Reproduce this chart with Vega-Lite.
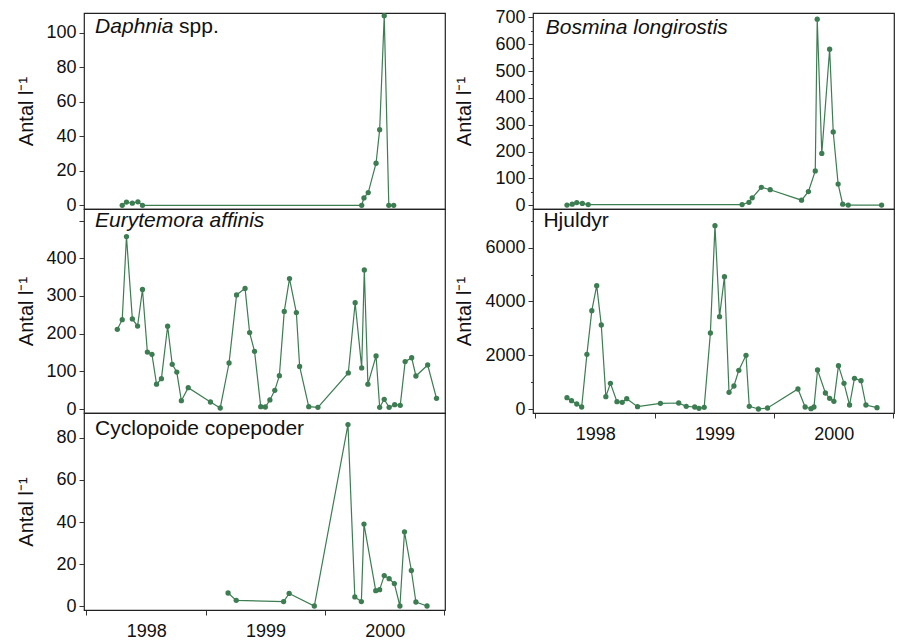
{
  "$schema": "https://vega.github.io/schema/vega-lite/v6.json",
  "padding": {"left": 15, "top": 7, "right": 0, "bottom": 0},
  "background": "white",
  "config": {
    "view": {"stroke": "#222", "strokeWidth": 1.2},
    "axis": {"labelFont": "Liberation Sans", "labelFontSize": 18, "labelColor": "#111", "titleFont": "Liberation Sans", "titleFontSize": 20, "titleFontWeight": "normal", "titleColor": "#111", "tickColor": "#333", "tickSize": 5, "domain": false, "grid": false, "labelPadding": 3, "labelOverlap": false, "labelFlush": false, "labelSeparation": 0, "tickCount": 50},
    "text": {"font": "Liberation Sans", "fontSize": 21, "color": "#111", "align": "left", "baseline": "alphabetic"}
  },
  "datasets": {
    "daphnia": [
      {"date": "1998-04-21", "antal": 0}, {"date": "1998-05-04", "antal": 1.9}, {"date": "1998-05-22", "antal": 1.2}, {"date": "1998-06-08", "antal": 2.0}, {"date": "1998-06-22", "antal": 0},
      {"date": "2000-04-23", "antal": 0}, {"date": "2000-04-30", "antal": 4.3}, {"date": "2000-05-13", "antal": 7.4}, {"date": "2000-06-06", "antal": 24.4}, {"date": "2000-06-17", "antal": 43.9}, {"date": "2000-07-01", "antal": 110}, {"date": "2000-07-15", "antal": 0}, {"date": "2000-07-30", "antal": 0}
    ],
    "bosmina": [
      {"date": "1998-04-08", "antal": 1}, {"date": "1998-04-24", "antal": 4}, {"date": "1998-05-08", "antal": 10}, {"date": "1998-05-25", "antal": 7}, {"date": "1998-06-12", "antal": 2.5},
      {"date": "1999-09-26", "antal": 2.5}, {"date": "1999-10-17", "antal": 11}, {"date": "1999-10-27", "antal": 28}, {"date": "1999-11-24", "antal": 67}, {"date": "1999-12-21", "antal": 58},
      {"date": "2000-03-26", "antal": 19}, {"date": "2000-04-16", "antal": 51}, {"date": "2000-05-07", "antal": 128}, {"date": "2000-05-13", "antal": 693}, {"date": "2000-05-27", "antal": 193}, {"date": "2000-06-20", "antal": 581}, {"date": "2000-07-01", "antal": 273}, {"date": "2000-07-16", "antal": 79}, {"date": "2000-07-30", "antal": 4}, {"date": "2000-08-16", "antal": 1}, {"date": "2000-11-26", "antal": 1}
    ],
    "eurytemora": [
      {"date": "1998-04-06", "antal": 211.5}, {"date": "1998-04-21", "antal": 237}, {"date": "1998-05-04", "antal": 457.5}, {"date": "1998-05-22", "antal": 239}, {"date": "1998-06-07", "antal": 220}, {"date": "1998-06-22", "antal": 317}, {"date": "1998-07-07", "antal": 151}, {"date": "1998-07-21", "antal": 145}, {"date": "1998-08-04", "antal": 66}, {"date": "1998-08-19", "antal": 80.5}, {"date": "1998-09-07", "antal": 219.5}, {"date": "1998-09-21", "antal": 118.6}, {"date": "1998-10-05", "antal": 98}, {"date": "1998-10-19", "antal": 22}, {"date": "1998-11-09", "antal": 56.6},
      {"date": "1999-01-16", "antal": 18.6}, {"date": "1999-02-15", "antal": 2.7}, {"date": "1999-03-14", "antal": 122}, {"date": "1999-04-06", "antal": 302.7}, {"date": "1999-05-02", "antal": 320}, {"date": "1999-05-16", "antal": 202.7}, {"date": "1999-05-31", "antal": 153}, {"date": "1999-06-19", "antal": 6.2}, {"date": "1999-07-03", "antal": 5.3}, {"date": "1999-07-17", "antal": 24}, {"date": "1999-08-01", "antal": 49.6}, {"date": "1999-08-15", "antal": 88.5}, {"date": "1999-08-30", "antal": 259}, {"date": "1999-09-15", "antal": 346}, {"date": "1999-10-06", "antal": 255.8}, {"date": "1999-10-16", "antal": 113}, {"date": "1999-11-13", "antal": 6.2}, {"date": "1999-12-11", "antal": 4.4},
      {"date": "2000-03-13", "antal": 95.6}, {"date": "2000-04-03", "antal": 282}, {"date": "2000-04-23", "antal": 109}, {"date": "2000-05-01", "antal": 369}, {"date": "2000-05-12", "antal": 66}, {"date": "2000-06-06", "antal": 140.7}, {"date": "2000-06-17", "antal": 4.4}, {"date": "2000-07-01", "antal": 25.7}, {"date": "2000-07-16", "antal": 4.4}, {"date": "2000-08-02", "antal": 11.5}, {"date": "2000-08-19", "antal": 9.7}, {"date": "2000-09-03", "antal": 125.7}, {"date": "2000-09-23", "antal": 136}, {"date": "2000-10-06", "antal": 87.6}, {"date": "2000-11-11", "antal": 116.8}, {"date": "2000-12-08", "antal": 28.3}
    ],
    "hjuldyr": [
      {"date": "1998-04-08", "antal": 421}, {"date": "1998-04-22", "antal": 310}, {"date": "1998-05-08", "antal": 186}, {"date": "1998-05-23", "antal": 74}, {"date": "1998-06-08", "antal": 2033}, {"date": "1998-06-23", "antal": 3657}, {"date": "1998-07-08", "antal": 4587}, {"date": "1998-07-22", "antal": 3124}, {"date": "1998-08-05", "antal": 459}, {"date": "1998-08-19", "antal": 955}, {"date": "1998-09-08", "antal": 273}, {"date": "1998-09-24", "antal": 248}, {"date": "1998-10-08", "antal": 384}, {"date": "1998-11-10", "antal": 87},
      {"date": "1999-01-19", "antal": 211}, {"date": "1999-03-16", "antal": 223}, {"date": "1999-04-08", "antal": 99}, {"date": "1999-05-04", "antal": 74}, {"date": "1999-05-17", "antal": 25}, {"date": "1999-06-02", "antal": 62}, {"date": "1999-06-21", "antal": 2826}, {"date": "1999-07-05", "antal": 6818}, {"date": "1999-07-19", "antal": 3434}, {"date": "1999-08-03", "antal": 4921}, {"date": "1999-08-17", "antal": 620}, {"date": "1999-09-01", "antal": 855}, {"date": "1999-09-16", "antal": 1438}, {"date": "1999-10-08", "antal": 1996}, {"date": "1999-10-18", "antal": 99}, {"date": "1999-11-15", "antal": 0}, {"date": "1999-12-13", "antal": 37},
      {"date": "2000-03-15", "antal": 744}, {"date": "2000-04-06", "antal": 74}, {"date": "2000-04-24", "antal": 12}, {"date": "2000-05-03", "antal": 74}, {"date": "2000-05-14", "antal": 1450}, {"date": "2000-06-07", "antal": 595}, {"date": "2000-06-20", "antal": 397}, {"date": "2000-07-03", "antal": 285}, {"date": "2000-07-17", "antal": 1612}, {"date": "2000-08-03", "antal": 955}, {"date": "2000-08-20", "antal": 149}, {"date": "2000-09-04", "antal": 1140}, {"date": "2000-09-24", "antal": 1054}, {"date": "2000-10-09", "antal": 149}, {"date": "2000-11-12", "antal": 50}
    ],
    "cyclopoide": [
      {"date": "1999-03-11", "antal": 6.2}, {"date": "1999-04-05", "antal": 2.7}, {"date": "1999-08-28", "antal": 2.1}, {"date": "1999-09-14", "antal": 6.0}, {"date": "1999-11-30", "antal": 0},
      {"date": "2000-03-12", "antal": 86.4}, {"date": "2000-04-02", "antal": 4.3}, {"date": "2000-04-22", "antal": 2.1}, {"date": "2000-04-30", "antal": 39}, {"date": "2000-06-05", "antal": 7.3}, {"date": "2000-06-17", "antal": 7.8}, {"date": "2000-07-01", "antal": 14.5}, {"date": "2000-07-16", "antal": 13}, {"date": "2000-08-01", "antal": 10.7}, {"date": "2000-08-18", "antal": 0}, {"date": "2000-09-01", "antal": 35.3}, {"date": "2000-09-22", "antal": 16.9}, {"date": "2000-10-06", "antal": 1.9}, {"date": "2000-11-09", "antal": 0}
    ]
  },
  "hconcat": [
    {
      "bounds": "flush",
      "spacing": 0,
      "vconcat": [
        {
          "width": 361, "height": 196,
          "layer": [
            {"data": {"name": "daphnia"}, "mark": {"type": "line", "color": "#3c7d52", "strokeWidth": 1.2},
             "encoding": {
               "x": {"field": "date", "type": "temporal", "scale": {"type": "utc", "domain": [{"year": 1997, "month": 12, "date": 25, "utc": true}, {"year": 2001, "month": 1, "date": 3, "utc": true}]}, "axis": null},
               "y": {"field": "antal", "type": "quantitative", "scale": {"domain": [-2.15, 111.6], "nice": false, "zero": false}, "axis": {"values": [0, 20, 40, 60, 80, 100], "tickCount": 50, "labelOverlap": false, "title": "Antal l⁻¹", "titleX": -58, "titleBaseline": "middle"}}
             }},
            {"data": {"name": "daphnia"}, "mark": {"type": "point", "filled": true, "size": 28, "color": "#3c7d52", "opacity": 1},
             "encoding": {"x": {"field": "date", "type": "temporal"}, "y": {"field": "antal", "type": "quantitative"}}},
            {"data": {"values": [{"label": "Daphnia"}]}, "mark": {"type": "text", "fontStyle": "italic"},
             "encoding": {"text": {"field": "label"}, "x": {"datum": {"year": 1998, "month": 1, "date": 28, "utc": true}, "type": "temporal"}, "y": {"datum": 100, "type": "quantitative"}}},
            {"data": {"values": [{"label": "spp."}]}, "mark": {"type": "text", "dx": 84},
             "encoding": {"text": {"field": "label"}, "x": {"datum": {"year": 1998, "month": 1, "date": 28, "utc": true}, "type": "temporal"}, "y": {"datum": 100, "type": "quantitative"}}}
          ]
        },
        {
          "width": 361, "height": 204,
          "layer": [
            {"data": {"name": "eurytemora"}, "mark": {"type": "line", "color": "#3c7d52", "strokeWidth": 1.2},
             "encoding": {
               "x": {"field": "date", "type": "temporal", "scale": {"type": "utc", "domain": [{"year": 1997, "month": 12, "date": 25, "utc": true}, {"year": 2001, "month": 1, "date": 3, "utc": true}]}, "axis": null},
               "y": {"field": "antal", "type": "quantitative", "scale": {"domain": [-10.6, 530.6], "nice": false, "zero": false}, "axis": {"values": [0, 100, 200, 300, 400, 500], "tickCount": 50, "labelOverlap": false, "labelExpr": "datum.value === 500 ? '' : datum.label", "title": "Antal l⁻¹", "titleX": -58, "titleBaseline": "middle"}}
             }},
            {"data": {"name": "eurytemora"}, "mark": {"type": "point", "filled": true, "size": 28, "color": "#3c7d52", "opacity": 1},
             "encoding": {"x": {"field": "date", "type": "temporal"}, "y": {"field": "antal", "type": "quantitative"}}},
            {"data": {"values": [{"label": "Eurytemora affinis"}]}, "mark": {"type": "text", "fontStyle": "italic"},
             "encoding": {"text": {"field": "label"}, "x": {"datum": {"year": 1998, "month": 1, "date": 28, "utc": true}, "type": "temporal"}, "y": {"datum": 484, "type": "quantitative"}}}
          ]
        },
        {
          "width": 361, "height": 197,
          "layer": [
            {"data": {"name": "cyclopoide"}, "mark": {"type": "line", "color": "#3c7d52", "strokeWidth": 1.2},
             "encoding": {
               "x": {"field": "date", "type": "temporal", "scale": {"type": "utc", "domain": [{"year": 1997, "month": 12, "date": 25, "utc": true}, {"year": 2001, "month": 1, "date": 3, "utc": true}]},
                     "axis": {"values": [{"year": 1998, "month": 1, "date": 1, "utc": true}, {"year": 1999, "month": 1, "date": 1, "utc": true}, {"year": 2000, "month": 1, "date": 1, "utc": true}, {"year": 2001, "month": 1, "date": 1, "utc": true}], "tickCount": 50, "format": "%Y", "labelOffset": 60, "labelPadding": 7, "labelOverlap": false, "labelExpr": "utcyear(datum.value) > 2000 ? '' : datum.label", "title": null}},
               "y": {"field": "antal", "type": "quantitative", "scale": {"domain": [-1.9, 91.9], "nice": false, "zero": false}, "axis": {"values": [0, 20, 40, 60, 80], "tickCount": 50, "labelOverlap": false, "title": "Antal l⁻¹", "titleX": -58, "titleBaseline": "middle"}}
             }},
            {"data": {"name": "cyclopoide"}, "mark": {"type": "point", "filled": true, "size": 28, "color": "#3c7d52", "opacity": 1},
             "encoding": {"x": {"field": "date", "type": "temporal"}, "y": {"field": "antal", "type": "quantitative"}}},
            {"data": {"values": [{"label": "Cyclopoide copepoder"}]}, "mark": {"type": "text"},
             "encoding": {"text": {"field": "label"}, "x": {"datum": {"year": 1998, "month": 1, "date": 28, "utc": true}, "type": "temporal"}, "y": {"datum": 81.4, "type": "quantitative"}}}
          ]
        }
      ]
    },
    {
      "bounds": "flush",
      "spacing": 0,
      "vconcat": [
        {
          "width": 361, "height": 196,
          "layer": [
            {"data": {"name": "bosmina"}, "mark": {"type": "line", "color": "#3c7d52", "strokeWidth": 1.2},
             "encoding": {
               "x": {"field": "date", "type": "temporal", "scale": {"type": "utc", "domain": [{"year": 1997, "month": 12, "date": 25, "utc": true}, {"year": 2001, "month": 1, "date": 3, "utc": true}]}, "axis": null},
               "y": {"field": "antal", "type": "quantitative", "scale": {"domain": [-13.8, 716], "nice": false, "zero": false},
                     "axis": {"values": [0, 50, 100, 150, 200, 250, 300, 350, 400, 450, 500, 550, 600, 650, 700], "tickCount": 50, "labelOverlap": false, "labelExpr": "datum.value % 100 === 0 ? datum.label : ''", "tickSize": {"condition": {"test": "datum.value % 100 !== 0", "value": 2.5}, "value": 5}, "title": "Antal l⁻¹", "titleX": -69, "titleBaseline": "middle"}}
             }},
            {"data": {"name": "bosmina"}, "mark": {"type": "point", "filled": true, "size": 28, "color": "#3c7d52", "opacity": 1},
             "encoding": {"x": {"field": "date", "type": "temporal"}, "y": {"field": "antal", "type": "quantitative"}}},
            {"data": {"values": [{"label": "Bosmina longirostis"}]}, "mark": {"type": "text", "fontStyle": "italic"},
             "encoding": {"text": {"field": "label"}, "x": {"datum": {"year": 1998, "month": 2, "date": 2, "utc": true}, "type": "temporal"}, "y": {"datum": 636, "type": "quantitative"}}}
          ]
        },
        {
          "width": 361, "height": 204,
          "layer": [
            {"data": {"name": "hjuldyr"}, "mark": {"type": "line", "color": "#3c7d52", "strokeWidth": 1.2},
             "encoding": {
               "x": {"field": "date", "type": "temporal", "scale": {"type": "utc", "domain": [{"year": 1997, "month": 12, "date": 25, "utc": true}, {"year": 2001, "month": 1, "date": 3, "utc": true}]},
                     "axis": {"values": [{"year": 1998, "month": 1, "date": 1, "utc": true}, {"year": 1999, "month": 1, "date": 1, "utc": true}, {"year": 2000, "month": 1, "date": 1, "utc": true}, {"year": 2001, "month": 1, "date": 1, "utc": true}], "tickCount": 50, "format": "%Y", "labelOffset": 60, "labelPadding": 7, "labelOverlap": false, "labelExpr": "utcyear(datum.value) > 2000 ? '' : datum.label", "title": null}},
               "y": {"field": "antal", "type": "quantitative", "scale": {"domain": [-148.5, 7437], "nice": false, "zero": false},
                     "axis": {"values": [0, 1000, 2000, 3000, 4000, 5000, 6000, 7000], "tickCount": 50, "labelOverlap": false, "labelExpr": "datum.value % 2000 === 0 ? datum.label : ''", "format": "d", "tickSize": {"condition": {"test": "datum.value % 2000 !== 0", "value": 2.5}, "value": 5}, "title": "Antal l⁻¹", "titleX": -69, "titleBaseline": "middle"}}
             }},
            {"data": {"name": "hjuldyr"}, "mark": {"type": "point", "filled": true, "size": 28, "color": "#3c7d52", "opacity": 1},
             "encoding": {"x": {"field": "date", "type": "temporal"}, "y": {"field": "antal", "type": "quantitative"}}},
            {"data": {"values": [{"label": "Hjuldyr"}]}, "mark": {"type": "text"},
             "encoding": {"text": {"field": "label"}, "x": {"datum": {"year": 1998, "month": 1, "date": 26, "utc": true}, "type": "temporal"}, "y": {"datum": 6757, "type": "quantitative"}}}
          ]
        }
      ]
    }
  ],
  "spacing": -52
}
